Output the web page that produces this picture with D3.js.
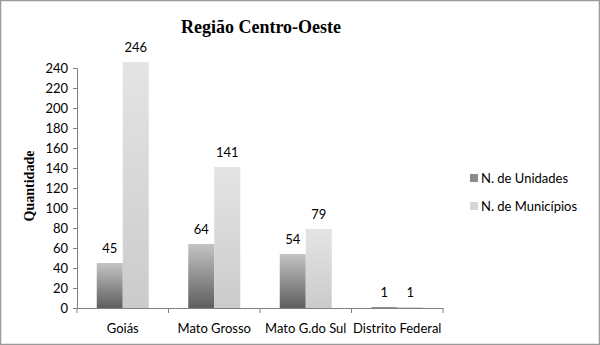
<!DOCTYPE html>
<html>
<head>
<meta charset="utf-8">
<script src="https://cdn.jsdelivr.net/npm/d3@7"></script>
<style>
  body { margin: 0; background: #fff; }
  svg { display: block; }
</style>
</head>
<body>
<div class="chart"></div>
<script>
'use strict'
var categories = ['Goiás', 'Mato Grosso', 'Mato G.do Sul', 'Distrito Federal']
var series = ['N. de Unidades', 'N. de Municípios']
var unidades = [45, 64, 54, 1]
var municipios = [246, 141, 79, 1]
var yTicks = [0, 20, 40, 60, 80, 100, 120, 140, 160, 180, 200, 220, 240]

var width = 600
var height = 345
var margin = { top: 68, left: 77, bottom: 37, right: 157 }

var svg = d3.select('.chart').append('svg')
  .attr('width', width)
  .attr('height', height)

// gradients
var defs = svg.append('defs')
var g1 = defs.append('linearGradient').attr('id', 'gDark').attr('x1', 0).attr('y1', 0).attr('x2', 0).attr('y2', 1)
g1.append('stop').attr('offset', '0%').attr('stop-color', '#c4c4c4')
g1.append('stop').attr('offset', '100%').attr('stop-color', '#5e5e5e')
var g2 = defs.append('linearGradient').attr('id', 'gLight').attr('x1', 0).attr('y1', 0).attr('x2', 0).attr('y2', 1)
g2.append('stop').attr('offset', '0%').attr('stop-color', '#e4e4e4')
g2.append('stop').attr('offset', '100%').attr('stop-color', '#cbcbcb')
var fills = ['url(#gDark)', 'url(#gLight)']
var legendFills = ['#8a8a8a', '#d6d6d6']

// border
svg.append('rect')
  .attr('x', 0.5).attr('y', 0.5)
  .attr('width', width - 1).attr('height', height - 1)
  .attr('fill', 'none').attr('stroke', '#9a9a9a').attr('stroke-width', 1.5)

var x = d3.scaleBand()
  .domain(categories)
  .range([margin.left, width - margin.right])
  .paddingInner(0)
  .paddingOuter(0)

var inner = d3.scaleBand()
  .domain(series)
  .range([0, x.bandwidth()])
  .paddingOuter(0.76)
  .paddingInner(0)

var y = d3.scaleLinear()
  .domain([0, 240])
  .range([height - margin.bottom, margin.top])

var data = []
categories.forEach(function (c, i) {
  data.push({ cat: c, s: series[0], v: unidades[i], f: fills[0] })
  data.push({ cat: c, s: series[1], v: municipios[i], f: fills[1] })
})

// bars
svg.append('g').selectAll('rect')
  .data(data)
  .enter().append('rect')
  .attr('x', function (d) { return x(d.cat) + inner(d.s) })
  .attr('y', function (d) { return y(d.v) })
  .attr('width', inner.bandwidth())
  .attr('height', function (d) { return y(0) - y(d.v) })
  .attr('fill', function (d) { return d.f })

// value labels
svg.append('g').selectAll('text')
  .data(data)
  .enter().append('text')
  .attr('x', function (d) { return x(d.cat) + inner(d.s) + inner.bandwidth() / 2 })
  .attr('y', function (d) { return y(d.v) - 10 })
  .attr('text-anchor', 'middle')
  .attr('font-family', 'Lato, "Open Sans", sans-serif')
  .attr('font-size', 13)
  .attr('fill', '#000')
  .text(function (d) { return d.v })

// y axis
var yAxis = svg.append('g')
  .attr('transform', 'translate(' + margin.left + ',0)')
  .call(d3.axisLeft(y).tickValues(yTicks).tickSize(4).tickPadding(5))
yAxis.select('.domain').attr('stroke', '#808080')
yAxis.selectAll('.tick line').attr('stroke', '#808080')
yAxis.selectAll('text')
  .attr('font-family', 'Lato, "Open Sans", sans-serif')
  .attr('font-size', 13)
  .attr('fill', '#000')

// x axis
var xAxis = svg.append('g')
  .attr('transform', 'translate(0,' + y(0) + ')')
  .call(d3.axisBottom(x).tickSize(0).tickPadding(16))
xAxis.select('.domain').attr('stroke', '#808080')
xAxis.selectAll('text')
  .attr('font-family', 'Lato, "Open Sans", sans-serif')
  .attr('font-size', 13)
  .attr('fill', '#000')
svg.append('g').selectAll('line')
  .data(categories.concat(['end']))
  .enter().append('line')
  .attr('x1', function (d, i) { return i < categories.length ? x(d) : x.range()[1] })
  .attr('x2', function (d, i) { return i < categories.length ? x(d) : x.range()[1] })
  .attr('y1', y(0))
  .attr('y2', y(0) + 5)
  .attr('stroke', '#808080')

// title
svg.append('text')
  .attr('x', 261)
  .attr('y', 33)
  .attr('text-anchor', 'middle')
  .attr('font-family', '"Liberation Serif", "Times New Roman", serif')
  .attr('font-weight', 'bold')
  .attr('font-size', 18)
  .text('Região Centro-Oeste')

// y title
svg.append('text')
  .attr('transform', 'translate(34,186) rotate(-90)')
  .attr('text-anchor', 'middle')
  .attr('font-family', '"Liberation Serif", "Times New Roman", serif')
  .attr('font-weight', 'bold')
  .attr('font-size', 14)
  .text('Quantidade')

// legend
var legend = svg.append('g').selectAll('g')
  .data(series)
  .enter().append('g')
  .attr('transform', function (d, i) { return 'translate(470,' + (178 + i * 28) + ')' })
legend.append('rect')
  .attr('x', 0).attr('y', -4)
  .attr('width', 8).attr('height', 8)
  .attr('fill', function (d, i) { return legendFills[i] })
legend.append('text')
  .attr('x', 11)
  .attr('y', 0)
  .attr('dy', '0.35em')
  .attr('font-family', 'Lato, "Open Sans", sans-serif')
  .attr('font-size', 13)
  .text(function (d) { return d })
</script>
</body>
</html>
